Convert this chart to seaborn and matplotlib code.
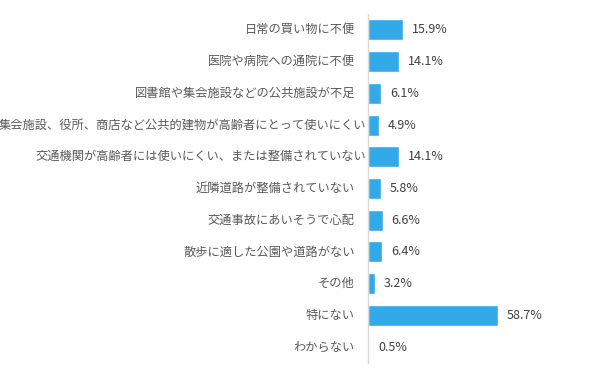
import matplotlib
matplotlib.use("Agg")
import matplotlib.pyplot as plt
import seaborn as sns
import pandas as pd

# Survey items and percentages
categories = [
    "日常の買い物に不便",
    "医院や病院への通院に不便",
    "図書館や集会施設などの公共施設が不足",
    "集会施設、役所、商店など公共的建物が高齢者にとって使いにくい",
    "交通機関が高齢者には使いにくい、または整備されていない",
    "近隣道路が整備されていない",
    "交通事故にあいそうで心配",
    "散歩に適した公園や道路がない",
    "その他",
    "特にない",
    "わからない",
]
values = [15.9, 14.1, 6.1, 4.9, 14.1, 5.8, 6.6, 6.4, 3.2, 58.7, 0.5]

df = pd.DataFrame({"item": categories, "pct": values})

sns.set_style("white")
plt.rcParams["font.family"] = ["Noto Sans CJK JP", "DejaVu Sans"]

fig = plt.figure(figsize=(6.05, 3.78), dpi=100)
ax = fig.add_axes([368 / 605, 15 / 378, 221 / 605, 349 / 378])

sns.barplot(data=df, x="pct", y="item", orient="h", color="#33AAE8",
            saturation=1, width=0.66, ax=ax)

ax.set_xlim(0, 100)
ax.set_xlabel("")
ax.set_ylabel("")
ax.set_xticks([])
ax.set_yticklabels([])
ax.tick_params(axis="y", length=0)
for side in ["top", "right", "bottom"]:
    ax.spines[side].set_visible(False)
ax.spines["left"].set_color("#D9D9D9")
ax.spines["left"].set_linewidth(1)

# category labels: the two long ones run up to the axis line like the original
trans = ax.get_yaxis_transform()
for i, name in enumerate(categories):
    gap = 2 if len(name) > 20 else 13
    ax.text(-gap / 221, i, name, transform=trans, ha="right", va="center",
            fontsize=8.8, color="#595959")

for i, v in enumerate(values):
    ax.text(v + 4, i, f"{v}%", va="center", ha="left", fontsize=9,
            color="#404040")

fig.savefig("out.png", dpi=100)
